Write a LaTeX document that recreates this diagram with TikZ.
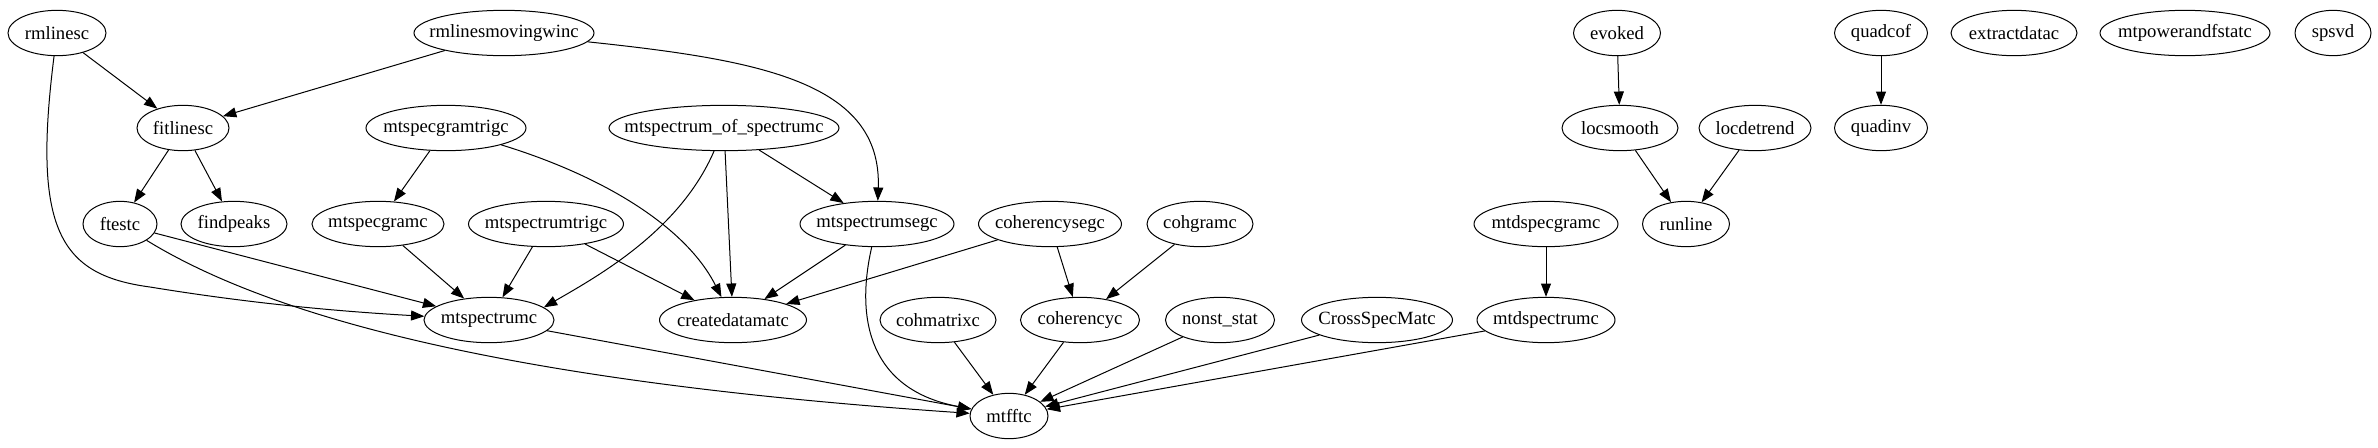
\documentclass[tikz,border=0pt]{standalone}
\usepackage{fontspec}
\setmainfont{Liberation Serif}
\usetikzlibrary{arrows.meta, shapes.geometric}

\begin{document}
\begin{tikzpicture}[
  x=0.75pt, y=-0.75pt,
  fn/.style={draw, ellipse, line width=0.75pt, inner xsep=-60pt, inner ysep=0pt,
             minimum height=34pt, minimum width=#1*0.75pt,
             font=\fontsize{14}{16}\selectfont},
  arr/.style={-{Triangle[length=10pt, width=7.5pt]}, line width=0.75pt},
]
\useasboundingbox (0,0) rectangle (2378,447);

% Row 1
\node[fn=98]  (rml)     at (57,33)   {rmlinesc};
\node[fn=180] (rmlmw)   at (504,33)  {rmlinesmovingwinc};
\node[fn=87]  (evoked)  at (1617,33) {evoked};
\node[fn=93]  (quadcof) at (1881,33) {quadcof};
\node[fn=126] (extr)    at (2014,33) {extractdatac};
\node[fn=170] (mtpf)    at (2185,33) {mtpowerandfstatc};
\node[fn=76]  (spsvd)   at (2333,33) {spsvd};

% Row 2
\node[fn=92]  (fit)     at (183,128)  {fitlinesc};
\node[fn=160] (sgtrig)  at (446,128)  {mtspecgramtrigc};
\node[fn=230] (sos)     at (724,128)  {mtspectrum\_of\_spectrumc};
\node[fn=116] (locsm)   at (1620,128) {locsmooth};
\node[fn=112] (locdt)   at (1755,128) {locdetrend};
\node[fn=93]  (quadinv) at (1881,128) {quadinv};

% Row 3
\node[fn=74]  (ftest)   at (120,224)  {ftestc};
\node[fn=106] (peaks)   at (234,224)  {findpeaks};
\node[fn=132] (sgram)   at (378,224)  {mtspecgramc};
\node[fn=155] (strig)   at (546,224)  {mtspectrumtrigc};
\node[fn=154] (sseg)    at (877,224)  {mtspectrumsegc};
\node[fn=143] (cohseg)  at (1050,224) {coherencysegc};
\node[fn=106] (cohgram) at (1200,224) {cohgramc};
\node[fn=144] (dsgram)  at (1546,224) {mtdspecgramc};
\node[fn=87]  (runl)    at (1686,224) {runline};

% Row 4
\node[fn=130] (spec)    at (489,320)  {mtspectrumc};
\node[fn=147] (cdm)     at (733,320)  {createdatamatc};
\node[fn=116] (cohmat)  at (938,320)  {cohmatrixc};
\node[fn=119] (coh)     at (1080,320) {coherencyc};
\node[fn=109] (nonst)   at (1220,320) {nonst\_stat};
\node[fn=151] (csm)     at (1377,320) {CrossSpecMatc};
\node[fn=138] (dspec)   at (1546,320) {mtdspectrumc};

% Row 5
\node[fn=78]  (fft)     at (1009,416) {mtfftc};

% rmlinesc / rmlinesmovingwinc
\draw[arr] (rml) -- (fit);
\draw[arr] (rml) .. controls (32,230) and (60,275) .. (150,287)
                 .. controls (260,305) and (350,312) .. (spec);
\draw[arr] (rmlmw) -- (fit);
\draw[arr] (rmlmw) .. controls (760,60) and (882,82) .. (sseg);

% fitlinesc
\draw[arr] (fit) -- (ftest);
\draw[arr] (fit) -- (peaks);

% spectrogram / spectrum callers
\draw[arr] (sgtrig) -- (sgram);
\draw[arr] (sgtrig) .. controls (600,175) and (685,225) .. (cdm);
\draw[arr] (sos) .. controls (680,230) and (600,275) .. (spec.13);
\draw[arr] (sos) -- (cdm);
\draw[arr] (sos) -- (sseg);
\draw[arr] (ftest) -- (spec);
\draw[arr] (ftest) .. controls (260,310) and (480,380) .. (fft);
\draw[arr] (sgram) -- (spec);
\draw[arr] (strig) -- (spec);
\draw[arr] (strig) -- (cdm);
\draw[arr] (sseg) -- (cdm);
\draw[arr] (sseg) .. controls (855,320) and (870,390) .. (fft);

% coherency
\draw[arr] (cohseg) -- (cdm);
\draw[arr] (cohseg) -- (coh);
\draw[arr] (cohgram) -- (coh);

% into mtfftc
\draw[arr] (spec) -- (fft);
\draw[arr] (cohmat) -- (fft);
\draw[arr] (coh) -- (fft);
\draw[arr] (nonst) -- (fft);
\draw[arr] (csm) -- (fft);
\draw[arr] (dspec) -- (fft);
\draw[arr] (dsgram) -- (dspec);

% right hand group
\draw[arr] (evoked) -- (locsm);
\draw[arr] (locsm) -- (runl);
\draw[arr] (locdt) -- (runl);
\draw[arr] (quadcof) -- (quadinv);

\end{tikzpicture}
\end{document}
